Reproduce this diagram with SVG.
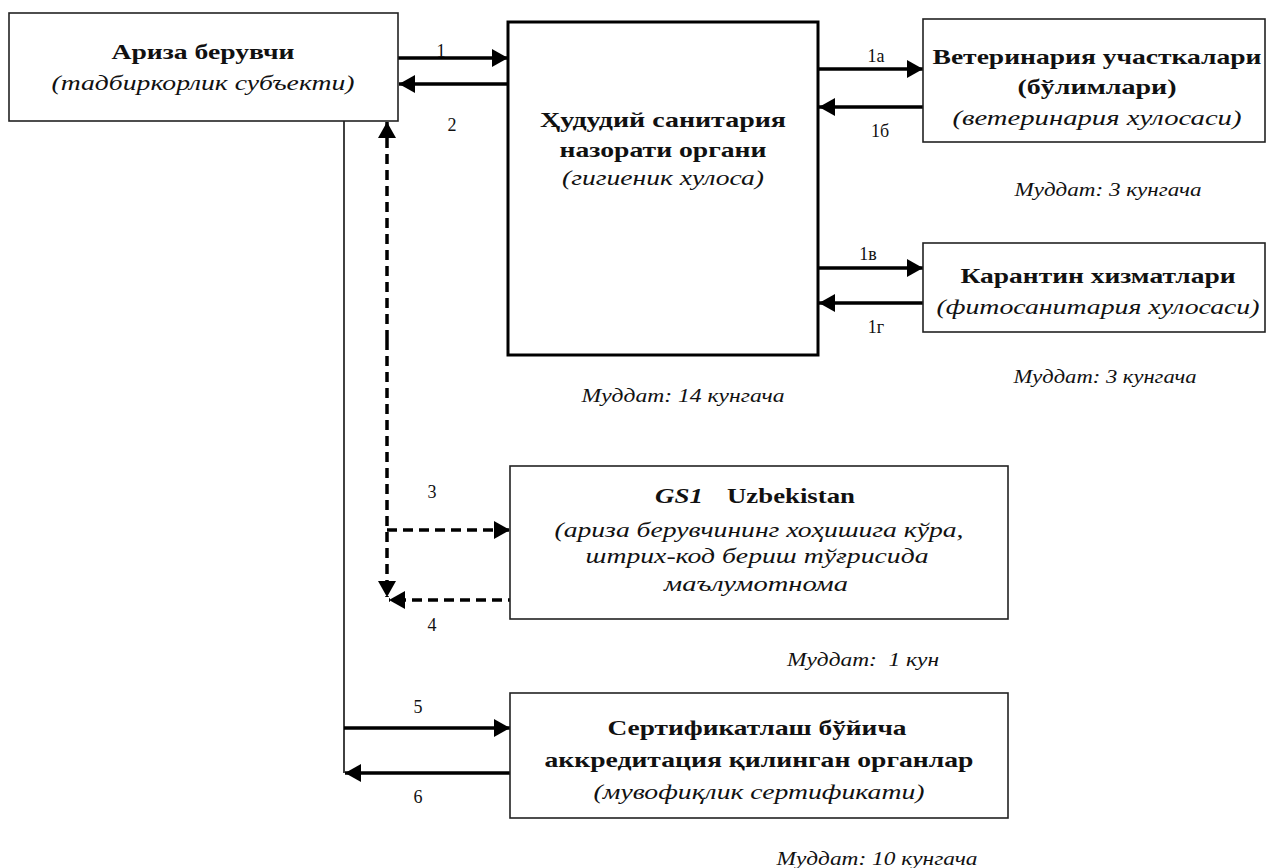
<svg xmlns="http://www.w3.org/2000/svg" width="1268" height="868" viewBox="0 0 1268 868">
<style>
text{font-family:"Liberation Serif","Times New Roman",serif;fill:#111;}
.t{font-size:21px;font-weight:bold;text-anchor:middle;}
.i{font-size:20px;font-style:italic;text-anchor:middle;}
.m{font-size:18px;font-style:italic;text-anchor:middle;white-space:pre;}
.n{font-size:18px;text-anchor:middle;}
.box{fill:#fff;stroke:#222;stroke-width:1.6;}
.bold{fill:#fff;stroke:#000;stroke-width:3;}
.c{fill:none;stroke:#000;stroke-width:3.5;}
.d{fill:none;stroke:#000;stroke-width:3.5;stroke-dasharray:10 6;}
.v{fill:none;stroke:#111;stroke-width:1.6;}
</style>
<defs>
<marker id="ah" viewBox="0 0 16 18" refX="16" refY="9" markerWidth="16" markerHeight="18" markerUnits="userSpaceOnUse" orient="auto">
<path d="M0,0 L16,9 L0,18 z" fill="#000"/>
</marker>
</defs>
<rect width="1268" height="868" fill="#fff"/>

<g id="connectors">
<line class="v" x1="344" y1="121" x2="344" y2="773"/>
<line class="c" x1="398" y1="58" x2="508" y2="58" marker-end="url(#ah)"/>
<line class="c" x1="508" y1="84" x2="399" y2="84" marker-end="url(#ah)"/>
<line class="c" x1="818" y1="69" x2="923" y2="69" marker-end="url(#ah)"/>
<line class="c" x1="923" y1="107" x2="819" y2="107" marker-end="url(#ah)"/>
<line class="c" x1="818" y1="268" x2="923" y2="268" marker-end="url(#ah)"/>
<line class="c" x1="923" y1="303" x2="819" y2="303" marker-end="url(#ah)"/>
<line class="d" x1="387" y1="340" x2="387" y2="122" marker-end="url(#ah)"/>
<line class="d" x1="387" y1="340" x2="387" y2="597" marker-end="url(#ah)"/>
<line class="d" x1="387" y1="530" x2="510" y2="530" marker-end="url(#ah)"/>
<line class="d" x1="518" y1="600" x2="389" y2="600" marker-end="url(#ah)"/>
<line class="c" x1="344" y1="728" x2="510" y2="728" marker-end="url(#ah)"/>
<line class="c" x1="510" y1="773" x2="345" y2="773" marker-end="url(#ah)"/>
<text class="n" x="441" y="57">1</text>
<text class="n" x="452" y="131">2</text>
<text class="n" x="876" y="62">1а</text>
<text class="n" x="880" y="137">1б</text>
<text class="n" x="868" y="260">1в</text>
<text class="n" x="876" y="333">1г</text>
<text class="n" x="432" y="498">3</text>
<text class="n" x="432" y="631">4</text>
<text class="n" x="418" y="713">5</text>
<text class="n" x="418" y="803">6</text>
</g>

<g id="applicant">
<rect class="box" x="9" y="13" width="389" height="108"/>
<text class="t" x="203" y="59" textLength="183" lengthAdjust="spacingAndGlyphs">Ариза берувчи</text>
<text class="i" x="203" y="90" textLength="303" lengthAdjust="spacingAndGlyphs">(тадбиркорлик субъекти)</text>
</g>

<g id="sanitary">
<rect class="bold" x="508" y="22" width="310" height="333"/>
<text class="t" x="663" y="127" textLength="246" lengthAdjust="spacingAndGlyphs">Ҳудудий санитария</text>
<text class="t" x="663" y="157" textLength="207" lengthAdjust="spacingAndGlyphs">назорати органи</text>
<text class="i" x="663" y="185" textLength="202" lengthAdjust="spacingAndGlyphs">(гигиеник хулоса)</text>
<text class="m" x="683" y="402" textLength="203" lengthAdjust="spacingAndGlyphs">Муддат: 14 кунгача</text>
</g>

<g id="veterinary">
<rect class="box" x="923" y="19" width="342" height="123"/>
<text class="t" x="1097" y="64" textLength="329" lengthAdjust="spacingAndGlyphs">Ветеринария участкалари</text>
<text class="t" x="1097" y="94" textLength="159" lengthAdjust="spacingAndGlyphs">(бўлимлари)</text>
<text class="i" x="1097" y="125" textLength="289" lengthAdjust="spacingAndGlyphs">(ветеринария хулосаси)</text>
<text class="m" x="1108" y="196" textLength="187" lengthAdjust="spacingAndGlyphs">Муддат: 3 кунгача</text>
</g>

<g id="quarantine">
<rect class="box" x="923" y="243" width="342" height="89"/>
<text class="t" x="1098" y="283" textLength="275" lengthAdjust="spacingAndGlyphs">Карантин хизматлари</text>
<text class="i" x="1098" y="314" textLength="323" lengthAdjust="spacingAndGlyphs">(фитосанитария хулосаси)</text>
<text class="m" x="1105" y="383" textLength="183" lengthAdjust="spacingAndGlyphs">Муддат: 3 кунгача</text>
</g>

<g id="gs1">
<rect class="box" x="510" y="466" width="498" height="153"/>
<text x="655" y="503" style="font-size:21px;font-weight:bold;font-style:italic" textLength="48" lengthAdjust="spacingAndGlyphs">GS1</text>
<text x="727" y="503" style="font-size:21px;font-weight:bold" textLength="128" lengthAdjust="spacingAndGlyphs">Uzbekistan</text>
<text class="i" x="759" y="537" textLength="409" lengthAdjust="spacingAndGlyphs">(ариза берувчининг хоҳишига кўра,</text>
<text class="i" x="757" y="563" textLength="343" lengthAdjust="spacingAndGlyphs">штрих-код бериш тўғрисида</text>
<text class="i" x="756" y="591" textLength="184" lengthAdjust="spacingAndGlyphs">маълумотнома</text>
<text class="m" x="863" y="666" textLength="152" lengthAdjust="spacingAndGlyphs">Муддат:  1 кун</text>
</g>

<g id="certification">
<rect class="box" x="510" y="693" width="498" height="125"/>
<text class="t" x="757" y="735" textLength="299" lengthAdjust="spacingAndGlyphs">Сертификатлаш бўйича</text>
<text class="t" x="759" y="767" textLength="429" lengthAdjust="spacingAndGlyphs">аккредитация қилинган органлар</text>
<text class="i" x="759" y="799" textLength="331" lengthAdjust="spacingAndGlyphs">(мувофиқлик сертификати)</text>
<text class="m" x="877" y="865" textLength="201" lengthAdjust="spacingAndGlyphs">Муддат: 10 кунгача</text>
</g>
</svg>
